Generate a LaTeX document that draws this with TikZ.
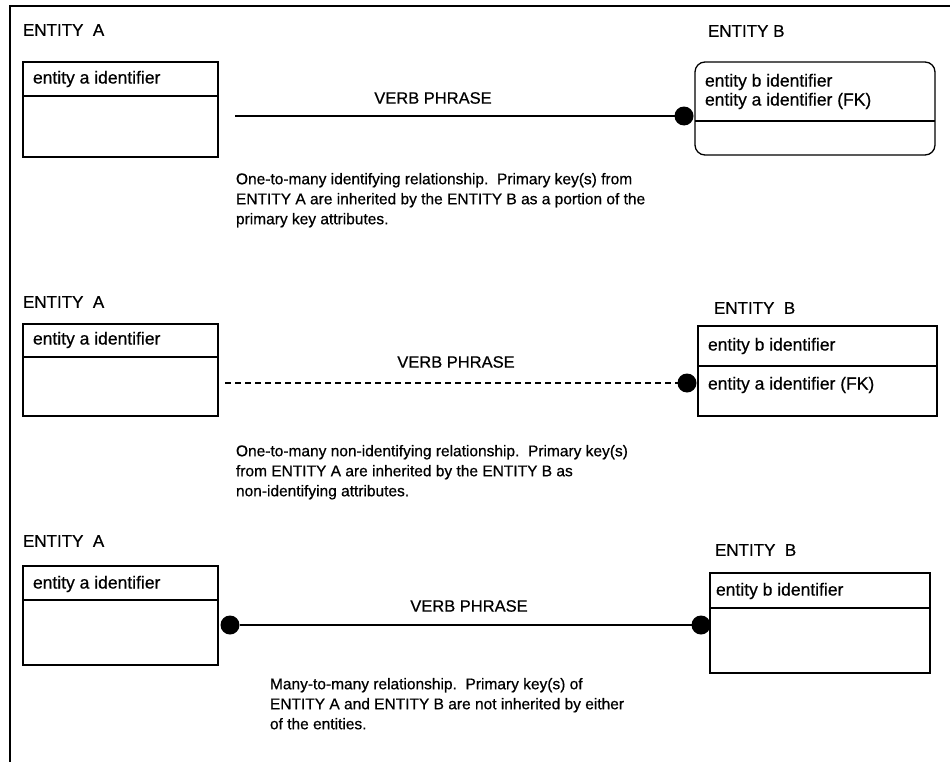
\documentclass[tikz,border=0pt]{standalone}
\usepackage{fontspec}
\setmainfont{Liberation Sans}[FakeBold=0.6]
\begin{document}
\begin{tikzpicture}[x=1bp,y=-1bp,
  every node/.style={inner sep=0pt, outer sep=0pt, font=\fontsize{15.5bp}{20bp}\selectfont},
  lbl/.style={anchor=west, font=\fontsize{17bp}{20bp}\selectfont},
  key/.style={anchor=west, font=\fontsize{17.5bp}{20bp}\selectfont},
  vp/.style={font=\fontsize{16.5bp}{20bp}\selectfont},
  ent/.style={draw, line width=1.3bp, anchor=north west},
  divl/.style={line width=1.3bp},
  conn/.style={line width=1.6bp},
  dotn/.style={circle, fill=black, minimum size=19bp},
  desc/.style={anchor=north west, align=left, font=\fontsize{15.5bp}{20bp}\selectfont}]
\useasboundingbox (0,0) rectangle (950,762);
% frame
\coordinate (fr1) at (950,6);
\coordinate (fr2) at (10,6);
\coordinate (fr3) at (10,762);
\draw[line width=1.6bp] (fr1) -- (fr2) -- (fr3);

% ===== Panel 1 =====
\node[lbl] (t1a) at (23,30) {ENTITY\ \ A};
\node[ent, minimum width=195bp, minimum height=95bp] (a1) at (23,62) {};
\draw[divl] (a1.west |- 0,96) -- (a1.east |- 0,96);
\node[key] (a1k) at (33,79) {entity a identifier};
\node[lbl] (t1b) at (708,31) {ENTITY B};
\node[ent, rounded corners=10bp, minimum width=240bp, minimum height=93bp] (b1) at (695,62) {};
\draw[divl] (b1.west |- 0,121) -- (b1.east |- 0,121);
\node[key] (b1k) at (705,82) {entity b identifier};
\node[key] (b1f) at (705,101) {entity a identifier (FK)};
\coordinate (s1) at (235,116);
\node[dotn] (d1) at (684,116) {};
\draw[conn] (s1) -- (d1);
\node[vp] (v1) at (433,98) {VERB PHRASE};
\node[desc] (x1) at (236,173) {One-to-many identifying relationship.\ \ Primary key(s) from\\ENTITY A are inherited by the ENTITY B as a portion of the\\primary key attributes.};

% ===== Panel 2 =====
\node[lbl] (t2a) at (23,302) {ENTITY\ \ A};
\node[ent, minimum width=195bp, minimum height=92bp] (a2) at (23,324) {};
\draw[divl] (a2.west |- 0,357) -- (a2.east |- 0,357);
\node[key] (a2k) at (33,340) {entity a identifier};
\node[lbl] (t2b) at (714,308) {ENTITY\ \ B};
\node[ent, minimum width=239bp, minimum height=90bp] (b2) at (698,326) {};
\draw[divl] (b2.west |- 0,366) -- (b2.east |- 0,366);
\node[key] (b2k) at (708,346) {entity b identifier};
\node[key] (b2f) at (708,385) {entity a identifier (FK)};
\coordinate (s2) at (225,383);
\node[dotn] (d2) at (687,383) {};
\draw[conn, dash pattern=on 6bp off 4bp] (s2) -- (d2);
\node[vp] (v2) at (456,362) {VERB PHRASE};
\node[desc] (x2) at (236,445) {One-to-many non-identifying relationship.\ \ Primary key(s)\\from ENTITY A are inherited by the ENTITY B as\\non-identifying attributes.};

% ===== Panel 3 =====
\node[lbl] (t3a) at (23,541) {ENTITY\ \ A};
\node[ent, minimum width=195bp, minimum height=99bp] (a3) at (23,566) {};
\draw[divl] (a3.west |- 0,600) -- (a3.east |- 0,600);
\node[key] (a3k) at (33,584) {entity a identifier};
\node[lbl] (t3b) at (715,550) {ENTITY\ \ B};
\node[ent, minimum width=220bp, minimum height=100bp] (b3) at (710,573) {};
\draw[divl] (b3.west |- 0,608) -- (b3.east |- 0,608);
\node[key] (b3k) at (716,591) {entity b identifier};
\node[dotn] (d3a) at (230,625) {};
\node[dotn] (d3b) at (701,625) {};
\draw[conn] (d3a) -- (d3b);
\node[vp] (v3) at (469,606) {VERB PHRASE};
\node[desc] (x3) at (270,678) {Many-to-many relationship.\ \ Primary key(s) of\\ENTITY A and ENTITY B are not inherited by either\\of the entities.};
\end{tikzpicture}
\end{document}
